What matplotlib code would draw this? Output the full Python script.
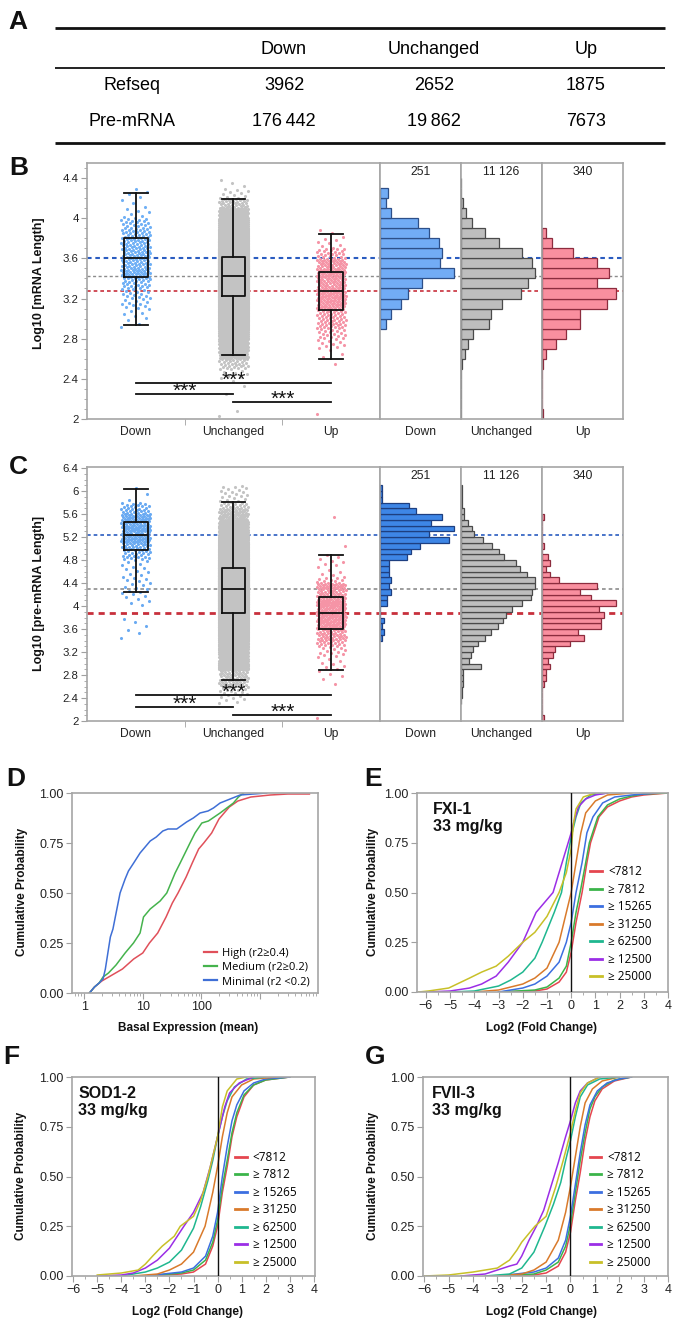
import numpy as np
import matplotlib
matplotlib.use('Agg')
import matplotlib.pyplot as plt
from matplotlib.ticker import MultipleLocator, FuncFormatter, LogLocator, NullFormatter

plt.rcParams['font.family'] = ['Liberation Sans', 'DejaVu Sans']
plt.rcParams['axes.edgecolor'] = '#a6a6a6'
plt.rcParams['axes.linewidth'] = 1.2
plt.rcParams['xtick.color'] = '#a0a0a0'
plt.rcParams['ytick.color'] = '#a0a0a0'
plt.rcParams['xtick.labelcolor'] = '#222222'
plt.rcParams['ytick.labelcolor'] = '#222222'
LEG_FONT = ['Open Sans', 'DejaVu Sans']

W, H = 675, 1322

# ---------------------------------------------------------------- panel A
table_cols = ['Down', 'Unchanged', 'Up']
table_rows = ['Refseq', 'Pre-mRNA']
refseq_counts = ['3962', '2652', '1875']
premrna_counts = ['176\u2009442', '19\u2009862', '7673']

# ---------------------------------------------------------------- panels B / C
groups = ['Down', 'Unchanged', 'Up']
hist_totals = ['251', '11 126', '340']
bin_width = 0.1

# counts per 0.1 bin, starting at the given lower edge
mrna_starts = [2.9, 2.0, 2.0]
mrna_down = [3, 6, 11, 15, 22, 39, 32, 33, 31, 26, 20, 6, 3, 4]
mrna_unch = [2, 0, 1, 2, 8, 28, 76, 146, 257, 577, 632, 841, 1237, 1390, 1529,
             1480, 1265, 792, 500, 236, 104, 35, 10, 3]
mrna_up = [1, 0, 0, 0, 0, 1, 3, 10, 17, 27, 27, 46, 52, 39, 47, 39, 22, 7, 3]

# whisker low, q1, median, q3, whisker high
mrna_box_down = [2.936, 3.417, 3.60, 3.80, 4.247]
mrna_box_unch = [2.634, 3.225, 3.424, 3.613, 4.19]
mrna_box_up = [2.598, 3.085, 3.275, 3.46, 3.84]
mrna_sig_y = [2.362, 2.245, 2.17]

pre_starts = [3.4, 2.3, 2.0]
pre_down = [1, 2, 1, 2, 0, 0, 3, 3, 5, 4, 5, 4, 4, 4, 12, 14, 18, 31, 22, 33,
            23, 28, 16, 13, 1, 1, 1]
pre_unch = [4, 7, 11, 22, 22, 22, 220, 93, 108, 134, 187, 265, 332, 403, 459,
            500, 560, 671, 772, 783, 813, 813, 731, 656, 604, 477, 418, 347,
            246, 149, 119, 75, 34, 30, 15, 7, 7, 7]
pre_up = [1, 0, 0, 0, 0, 0, 1, 2, 2, 4, 3, 6, 7, 15, 22, 19, 31, 31, 33, 30,
          39, 26, 20, 29, 9, 4, 2, 4, 3, 0, 1, 0, 0, 0, 0, 1]

pre_box_down = [4.25, 4.968, 5.24, 5.46, 6.035]
pre_box_unch = [2.713, 3.878, 4.296, 4.667, 5.815]
pre_box_up = [2.887, 3.606, 3.878, 4.162, 4.887]
pre_sig_y = [2.452, 2.243, 2.11]

sig_pairs = [(0, 2), (0, 1), (1, 2)]

# ---------------------------------------------------------------- panel D
basal_labels = ['High (r2\u22650.4)', 'Medium (r2\u22650.2)', 'Minimal (r2 <0.2)']
high_x = [1.23, 1.5, 2.0, 3.0, 4.5, 7, 10, 13, 18, 25, 32, 40, 55, 70, 90, 110,
          150, 200, 300, 420, 700, 1500, 3000, 7000]
high_y = [0.0, 0.03, 0.06, 0.09, 0.12, 0.17, 0.2, 0.25, 0.3, 0.38, 0.45, 0.5,
          0.58, 0.65, 0.72, 0.75, 0.8, 0.87, 0.93, 0.96, 0.98, 0.99, 0.995, 0.995]
medium_x = [1.23, 1.5, 1.8, 2.1, 2.6, 3.5, 5.0, 6.95, 9, 10.3, 13.4, 19.8, 25.7,
            35.7, 43.5, 64, 78, 102, 132, 209, 353, 430, 524]
medium_y = [0.0, 0.03, 0.05, 0.08, 0.1, 0.14, 0.2, 0.25, 0.3, 0.38, 0.42, 0.46,
            0.5, 0.6, 0.65, 0.75, 0.8, 0.85, 0.86, 0.9, 0.95, 0.98, 1.0]
minimal_x = [1.23, 1.5, 1.8, 2.1, 2.3, 2.6, 2.8, 3.1, 3.4, 4.1, 5.0, 5.7, 7.0, 9,
             13.4, 17, 22, 27, 38, 56, 73, 95, 130, 161, 209, 310, 460, 1300]
minimal_y = [0.0, 0.03, 0.05, 0.07, 0.12, 0.22, 0.28, 0.32, 0.38, 0.5, 0.57,
             0.61, 0.65, 0.7, 0.76, 0.78, 0.81, 0.82, 0.82, 0.855, 0.875, 0.9,
             0.91, 0.925, 0.95, 0.97, 0.99, 1.0]

# ---------------------------------------------------------------- panels E-G
size_labels = ['<7812', '\u2265 7812', '\u2265 15265', '\u2265 31250',
               '\u2265 62500', '\u2265 12500', '\u2265 25000']
size_colors = ['#e5464f', '#3bb44a', '#3c6fe0', '#d97a2b', '#1fb78f',
               '#9b2ee6', '#c8c028']

fxi_x = [
    [-3.0, -1.5, -1.0, -0.5, -0.2, 0.0, 0.2, 0.45, 0.65, 0.8, 1.15, 1.5, 2.0, 2.5, 3.0, 4.0],
    [-3.0, -1.5, -1.0, -0.5, -0.2, 0.0, 0.2, 0.4, 0.6, 0.75, 1.1, 1.5, 2.0, 2.5, 3.0, 4.0],
    [-3.0, -2.0, -1.5, -1.0, -0.5, -0.2, 0.0, 0.2, 0.45, 0.65, 0.9, 1.3, 1.8, 2.5, 3.5],
    [-4.0, -3.0, -2.0, -1.5, -1.0, -0.5, -0.2, 0.0, 0.2, 0.4, 0.6, 1.0, 1.5, 2.5],
    [-5.0, -4.0, -3.0, -2.5, -2.0, -1.5, -1.2, -0.7, -0.4, -0.2, 0.0, 0.2, 0.4, 0.8, 1.5],
    [-6.0, -5.0, -4.2, -3.7, -3.1, -2.6, -2.0, -1.45, -0.75, -0.5, -0.2, 0.0, 0.1, 0.3, 0.6, 1.0, 1.5],
    [-6.3, -5.9, -5.06, -4.2, -3.7, -3.1, -2.6, -2.0, -1.5, -1.0, -0.5, -0.2, 0.0, 0.1, 0.2, 0.5, 1.0],
]
fxi_y = [
    [0.0, 0.005, 0.015, 0.05, 0.1, 0.2, 0.35, 0.5, 0.65, 0.75, 0.88, 0.93, 0.96, 0.98, 0.99, 1.0],
    [0.0, 0.01, 0.025, 0.07, 0.13, 0.25, 0.4, 0.52, 0.65, 0.75, 0.88, 0.94, 0.97, 0.985, 0.995, 1.0],
    [0.0, 0.02, 0.04, 0.08, 0.15, 0.25, 0.35, 0.5, 0.65, 0.8, 0.88, 0.95, 0.98, 0.99, 1.0],
    [0.0, 0.01, 0.04, 0.07, 0.12, 0.25, 0.4, 0.5, 0.65, 0.8, 0.9, 0.96, 0.99, 1.0],
    [0.0, 0.005, 0.03, 0.06, 0.1, 0.17, 0.25, 0.4, 0.5, 0.65, 0.78, 0.88, 0.95, 0.99, 1.0],
    [0.0, 0.005, 0.02, 0.04, 0.08, 0.15, 0.25, 0.4, 0.5, 0.6, 0.72, 0.8, 0.85, 0.93, 0.97, 0.99, 1.0],
    [0.0, 0.005, 0.02, 0.07, 0.1, 0.13, 0.18, 0.25, 0.3, 0.38, 0.5, 0.6, 0.72, 0.85, 0.92, 0.98, 1.0],
]

sod_x = [
    [-3.0, -1.5, -1.0, -0.5, -0.2, 0.0, 0.2, 0.4, 0.6, 0.8, 1.1, 1.5, 2.0, 3.0],
    [-3.0, -1.5, -1.0, -0.5, -0.2, 0.0, 0.2, 0.4, 0.6, 0.8, 1.1, 1.5, 2.0, 3.0],
    [-3.0, -1.5, -1.0, -0.5, -0.2, 0.0, 0.2, 0.4, 0.6, 0.8, 1.1, 1.5, 2.0, 3.0],
    [-3.5, -2.5, -2.0, -1.5, -1.0, -0.52, -0.2, 0.0, 0.2, 0.4, 0.6, 1.0, 1.5, 2.5],
    [-4.0, -3.0, -2.5, -2.0, -1.5, -1.0, -0.7, -0.4, -0.2, 0.0, 0.2, 0.4, 0.7, 1.2, 2.0],
    [-5.0, -4.0, -3.5, -3.0, -2.5, -2.0, -1.4, -1.0, -0.6, -0.3, -0.1, 0.1, 0.3, 0.5, 0.9, 1.5],
    [-5.0, -4.0, -3.3, -3.0, -2.7, -2.3, -1.8, -1.55, -1.0, -0.7, -0.4, -0.2, 0.0, 0.2, 0.4, 0.8, 1.2],
]
sod_y = [
    [0.0, 0.01, 0.02, 0.06, 0.15, 0.25, 0.42, 0.55, 0.7, 0.8, 0.9, 0.96, 0.985, 1.0],
    [0.0, 0.015, 0.03, 0.08, 0.17, 0.28, 0.45, 0.58, 0.72, 0.82, 0.91, 0.96, 0.985, 1.0],
    [0.0, 0.02, 0.04, 0.1, 0.2, 0.32, 0.5, 0.65, 0.78, 0.86, 0.93, 0.97, 0.99, 1.0],
    [0.0, 0.01, 0.03, 0.06, 0.12, 0.25, 0.42, 0.55, 0.7, 0.82, 0.9, 0.96, 0.99, 1.0],
    [0.0, 0.02, 0.04, 0.07, 0.13, 0.24, 0.35, 0.48, 0.58, 0.7, 0.8, 0.88, 0.95, 0.99, 1.0],
    [0.0, 0.005, 0.015, 0.04, 0.08, 0.14, 0.25, 0.32, 0.42, 0.55, 0.65, 0.75, 0.85, 0.92, 0.97, 1.0],
    [0.005, 0.015, 0.03, 0.06, 0.1, 0.15, 0.2, 0.25, 0.3, 0.38, 0.5, 0.6, 0.7, 0.85, 0.93, 0.99, 1.0],
]

fvii_x = [
    [-3.0, -1.5, -1.0, -0.5, -0.2, 0.0, 0.2, 0.4, 0.6, 0.8, 1.0, 1.3, 1.8, 2.5],
    [-3.0, -1.5, -1.0, -0.5, -0.2, 0.0, 0.2, 0.4, 0.6, 0.8, 1.0, 1.3, 1.8, 2.5],
    [-3.0, -1.5, -1.0, -0.5, -0.2, 0.0, 0.2, 0.4, 0.6, 0.8, 1.1, 1.5, 2.0, 2.5],
    [-3.0, -2.0, -1.5, -1.0, -0.5, -0.2, 0.0, 0.2, 0.4, 0.6, 0.9, 1.3, 2.0],
    [-3.5, -2.5, -2.0, -1.5, -1.05, -0.7, -0.4, -0.2, 0.0, 0.2, 0.4, 0.7, 1.2, 2.0],
    [-4.5, -3.5, -3.0, -2.5, -2.2, -2.0, -1.7, -1.4, -1.1, -0.8, -0.5, -0.2, 0.0, 0.2, 0.4, 0.7, 1.2],
    [-6.0, -5.0, -4.0, -3.0, -2.5, -2.2, -2.0, -1.46, -1.0, -0.6, -0.3, 0.0, 0.2, 0.4, 0.7, 1.2],
]
fvii_y = [
    [0.0, 0.005, 0.015, 0.05, 0.12, 0.22, 0.38, 0.52, 0.68, 0.8, 0.88, 0.94, 0.98, 1.0],
    [0.0, 0.01, 0.03, 0.07, 0.15, 0.26, 0.42, 0.58, 0.72, 0.84, 0.9, 0.95, 0.985, 1.0],
    [0.0, 0.02, 0.04, 0.09, 0.18, 0.3, 0.46, 0.62, 0.76, 0.86, 0.93, 0.97, 0.99, 1.0],
    [0.0, 0.01, 0.03, 0.07, 0.18, 0.32, 0.45, 0.6, 0.75, 0.87, 0.94, 0.98, 1.0],
    [0.0, 0.01, 0.04, 0.12, 0.25, 0.36, 0.47, 0.58, 0.68, 0.8, 0.9, 0.96, 0.99, 1.0],
    [0.0, 0.01, 0.03, 0.05, 0.06, 0.1, 0.18, 0.25, 0.33, 0.45, 0.57, 0.7, 0.78, 0.87, 0.93, 0.97, 1.0],
    [0.0, 0.005, 0.02, 0.04, 0.08, 0.13, 0.17, 0.25, 0.3, 0.45, 0.58, 0.72, 0.83, 0.92, 0.97, 1.0],
]


def px_axes(fig, x0, y0, x1, y1):
    # axes from pixel box (top-left origin)
    return fig.add_axes([x0 / W, 1 - y1 / H, (x1 - x0) / W, (y1 - y0) / H])


def fig_text(fig, x, y, s, **kw):
    return fig.text(x / W, 1 - y / H, s, **kw)


def strip_points(start, counts, pos, half_width):
    # spread the points of every histogram bin over the bin, golden-ratio jitter in x
    xs, ys = [], []
    k = 0
    for i, n in enumerate(counts):
        lo = start + i * bin_width
        for j in range(n):
            ys.append(lo + bin_width * (j + 0.5) / n)
            xs.append(pos + half_width * (2 * ((k * 0.6180339887) % 1) - 1))
            k += 1
    return xs, ys


def length_panel(fig, top, bottom, starts, counts_list, boxes, sig_y, ylim,
                 pt_colors, bar_colors, bar_edges, ref_widths):
    ax = px_axes(fig, 87, top, 380, bottom)
    hists = [px_axes(fig, 380, top, 461, bottom),
             px_axes(fig, 461, top, 542, bottom),
             px_axes(fig, 542, top, 623, bottom)]

    for i, (start, counts) in enumerate(zip(starts, counts_list)):
        xs, ys = strip_points(start, counts, i, 0.15)
        ax.scatter(xs, ys, s=5, color=pt_colors[i], linewidths=0, zorder=2)

    stats = [dict(whislo=b[0], q1=b[1], med=b[2], q3=b[3], whishi=b[4]) for b in boxes]
    lp = dict(color='#111111', linewidth=1.3)
    ax.bxp(stats, positions=[0, 1, 2], widths=0.24, capwidths=0.24,
           showfliers=False, boxprops=lp, whiskerprops=lp, capprops=lp,
           medianprops=lp, manage_ticks=False, zorder=3)

    for (a, b), y in zip(sig_pairs, sig_y):
        ax.plot([a, b], [y, y], color='#111111', lw=1.3, zorder=4)
        ax.annotate('***', xy=((a + b) / 2, y), xytext=(0, -2.0),
                    textcoords='offset points', ha='center', va='baseline',
                    fontsize=15, color='#111111', zorder=5)

    ax.set_xlim(-0.5, 2.5)
    ax.set_ylim(ylim)
    ax.set_xticks([0, 1, 2])
    ax.set_xticklabels(groups, fontsize=8.7)
    ax.set_xticks([0.5, 1.5], minor=True)
    ax.tick_params(axis='x', which='major', length=0, pad=5)
    ax.tick_params(axis='x', which='minor', length=4, direction='out')
    ax.yaxis.set_major_locator(MultipleLocator(0.4))
    ax.yaxis.set_minor_locator(MultipleLocator(0.1))
    ax.yaxis.set_major_formatter(FuncFormatter(lambda v, _: f'{v:g}'))
    ax.tick_params(axis='y', which='major', length=4, labelsize=8.2, pad=2)
    ax.tick_params(axis='y', which='minor', length=2.5)

    medians = [b[2] for b in boxes]
    ref_colors = ['#2a5cc0', '#8c8c8c', '#c8303c']
    for a in [ax] + hists:
        for m, c, lw in zip(medians, ref_colors, ref_widths):
            a.axhline(m, color=c, lw=lw, ls=(0, (2.2, 1.8)), zorder=1)

    for i, ah in enumerate(hists):
        counts = counts_list[i]
        edges = starts[i] + bin_width * np.arange(len(counts))
        ah.barh(edges, counts, height=bin_width, align='edge',
                color=bar_colors[i], edgecolor=bar_edges[i], linewidth=0.9, zorder=2)
        top_count = max(counts) * 1.1
        ah.set_xlim(0, top_count)
        ah.set_ylim(ylim)
        ah.set_yticks([])
        ah.set_xticks([top_count / 2])
        ah.set_xticklabels([groups[i]], fontsize=8.7)
        ah.tick_params(axis='x', length=0, pad=5)
        ah.text(0.5, 0.966, hist_totals[i], transform=ah.transAxes,
                ha='center', va='center', fontsize=8.7, color='#222222')
    return ax


def style_cdf(ax):
    ax.set_ylim(0, 1)
    ax.set_yticks([0, 0.25, 0.5, 0.75, 1.0])
    ax.yaxis.set_major_formatter(FuncFormatter(lambda v, _: f'{v:.2f}'))
    ax.tick_params(axis='both', which='major', length=4, labelsize=9, pad=2)
    ax.tick_params(axis='both', which='minor', length=2.5)


def fold_panel(fig, box, xs, ys, title, xlim, leg_anchor):
    ax = px_axes(fig, *box)
    for x, y, c in zip(xs, ys, size_colors):
        ax.plot(x, y, color=c, lw=1.1)
    ax.axvline(0, color='#111111', lw=1.0, zorder=3)
    ax.set_xlim(xlim)
    ax.set_xticks(range(-6, 5))
    ax.xaxis.set_minor_locator(MultipleLocator(0.5))
    style_cdf(ax)
    ax.text(leg_anchor[2], 0.955, title, transform=ax.transAxes, ha='left',
            va='top', fontsize=11.5, fontweight='bold', linespacing=1.15,
            color='#111111')
    leg = ax.legend(size_labels, loc='center left', bbox_to_anchor=leg_anchor[:2],
                    frameon=False, prop={'family': LEG_FONT, 'size': 8.5},
                    handlelength=1.0, handletextpad=0.5, labelspacing=0.38,
                    borderpad=0, borderaxespad=0)
    for ln in leg.get_lines():
        ln.set_linewidth(2)
    return ax


fig = plt.figure(figsize=(W / 100, H / 100), dpi=100)

# ---- panel A: table
ax_a = px_axes(fig, 0, 0, W, 155)
ax_a.set_xlim(0, W)
ax_a.set_ylim(155, 0)
ax_a.axis('off')
ax_a.hlines([28, 143], 55, 665, color='#111111', lw=2.0)
ax_a.hlines([68], 55, 665, color='#111111', lw=1.3)
col_x = [284, 434, 586]
for cx, name in zip(col_x, table_cols):
    ax_a.text(cx, 50, name, ha='center', va='center', fontsize=13)
for ry, row_name, vals in zip([86, 121], table_rows, [refseq_counts, premrna_counts]):
    ax_a.text(132, ry, row_name, ha='center', va='center', fontsize=13)
    for cx, v in zip(col_x, vals):
        ax_a.text(cx, ry, v, ha='center', va='center', fontsize=13)

# ---- panel B
length_panel(fig, 163, 419, mrna_starts, [mrna_down, mrna_unch, mrna_up],
             [mrna_box_down, mrna_box_unch, mrna_box_up], mrna_sig_y, (2.0, 4.55),
             ['#70b0f5', '#c3c3c3', '#f594a6'],
             ['#72acf5', '#bebebe', '#f98f9f'],
             ['#2d4f88', '#4a4a4a', '#8c2c3e'], [1.5, 1.0, 1.2])

# ---- panel C
length_panel(fig, 467, 721, pre_starts, [pre_down, pre_unch, pre_up],
             [pre_box_down, pre_box_unch, pre_box_up], pre_sig_y, (2.0, 6.42),
             ['#6aaaf2', '#c3c3c3', '#f594a6'],
             ['#3e86e6', '#bebebe', '#f98f9f'],
             ['#1e3f80', '#4a4a4a', '#8c2c3e'], [1.2, 1.2, 2.0])

# ---- panel D
ax_d = px_axes(fig, 72, 793, 318, 993)
for x, y, c in zip([high_x, medium_x, minimal_x], [high_y, medium_y, minimal_y],
                   ['#e0505a', '#45b34d', '#3f6fd6']):
    ax_d.plot(x, y, color=c, lw=1.1)
ax_d.set_xscale('log')
ax_d.set_xlim(0.62, 9800)
ax_d.set_xticks([1, 10, 100, 1000])
ax_d.set_xticklabels(['1', '10', '100', ''])
ax_d.xaxis.set_minor_locator(LogLocator(base=10, subs=np.arange(2, 10)))
ax_d.xaxis.set_minor_formatter(NullFormatter())
style_cdf(ax_d)
leg = ax_d.legend(basal_labels, loc='center left', bbox_to_anchor=(0.535, 0.128),
                  frameon=False, prop={'family': LEG_FONT, 'size': 8},
                  handlelength=1.2, handletextpad=0.5, labelspacing=0.3,
                  borderpad=0, borderaxespad=0)
for ln in leg.get_lines():
    ln.set_linewidth(1.6)

# ---- panels E, F, G
fold_panel(fig, (417, 793, 668, 992), fxi_x, fxi_y, 'FXI-1\n33 mg/kg',
           (-6.37, 4.0), (0.69, 0.34, 0.062))
fold_panel(fig, (72, 1077, 315, 1276), sod_x, sod_y, 'SOD1-2\n33 mg/kg',
           (-6.05, 4.05), (0.67, 0.333, 0.025))
fold_panel(fig, (423, 1077, 668, 1276), fvii_x, fvii_y, 'FVII-3\n33 mg/kg',
           (-6.05, 4.0), (0.68, 0.333, 0.037))

# ---- axis titles
lab = dict(fontsize=9, fontweight='bold', color='#111111', ha='center', va='center')
fig_text(fig, 39, 283, 'Log10 [mRNA Length]', rotation=90, **lab)
fig_text(fig, 39, 593, 'Log10 [pre-mRNA Length]', rotation=90, **lab)
lab['fontsize'] = 8.5
fig_text(fig, 22, 892, 'Cumulative Probability', rotation=90, **lab)
fig_text(fig, 373, 892, 'Cumulative Probability', rotation=90, **lab)
fig_text(fig, 21, 1176, 'Cumulative Probability', rotation=90, **lab)
fig_text(fig, 373, 1176, 'Cumulative Probability', rotation=90, **lab)
fig_text(fig, 188, 1028, 'Basal Expression (mean)', **lab)
fig_text(fig, 542, 1028, 'Log2 (Fold Change)', **lab)
fig_text(fig, 187, 1312, 'Log2 (Fold Change)', **lab)
fig_text(fig, 542, 1312, 'Log2 (Fold Change)', **lab)

# ---- panel letters
for letter, (x, y) in zip('ABCDEFG', [(8, 10), (9, 156), (9, 455), (6, 767),
                                       (364, 767), (3, 1045), (365, 1045)]):
    fig_text(fig, x, y, letter, fontsize=19, fontweight='bold', ha='left',
             va='top', color='#111111')

fig.savefig('out.png', dpi=100)
